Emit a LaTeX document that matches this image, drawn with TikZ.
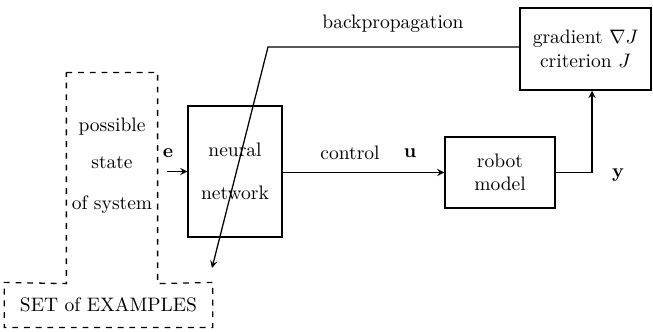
\documentclass[tikz,border=0pt]{standalone}
\usetikzlibrary{arrows}
\begin{document}
\begin{tikzpicture}[x=0.018cm,y=-0.018cm,->,>=stealth,line width=0.65pt,
  box node/.style={rectangle,draw,solid,align=center},
  plain node/.style={rectangle,draw=none,align=center,inner sep=1pt}]
		    \useasboundingbox (0,0) rectangle (653,331);
		    \node[plain node,minimum width=1.62cm,minimum height=3.78cm] (sys) at (112,178) {possible\\[7pt]state\\[9pt]of system\\[3pt]};
		    \node[plain node,minimum width=3.73cm,minimum height=0.79cm] (set) at (108.5,305) {SET of EXAMPLES};
		    \node[box node,minimum width=1.69cm,minimum height=2.36cm] (nn) at (235,171.5) {neural\\[10pt]network};
		    \node[box node,minimum width=1.98cm,minimum height=1.28cm] (rob) at (500,172.5) {robot\\model};
		    \node[box node,minimum width=2.36cm,minimum height=1.48cm] (grad) at (585.5,49) {gradient $\nabla J$\\criterion $J$};
		    \node[plain node] (bplab) at (393,24) {backpropagation};
		    \node[plain node] (ctrl) at (350,153) {control};
		    \node[plain node] (ulab) at (410,153) {\textbf{u}};
		    \node[plain node] (elab) at (168,153) {\textbf{e}};
		    \node[plain node] (ylab) at (618,175) {\textbf{y}};
		    \coordinate (bend) at (268,47);
		    \coordinate (tip) at (212,268);
		    \coordinate (yup) at (592,172.5);
		    \draw[-,dashed] (sys.north west) -- (sys.north east) -- (sys.south east) -- (set.north east)
		      -- (set.south east) -- (set.south west) -- (set.north west) -- (sys.south west) -- cycle;
		    \draw[shorten <=5pt] (sys.east |- nn.west) -- (nn.west);
		    \draw (nn.east |- rob.west) -- (rob.west);
		    \draw (rob.east) -- (yup) -- (yup |- grad.south);
		    \draw (grad.west |- bend) -- (bend) -- (tip);
		  \end{tikzpicture}
\end{document}
